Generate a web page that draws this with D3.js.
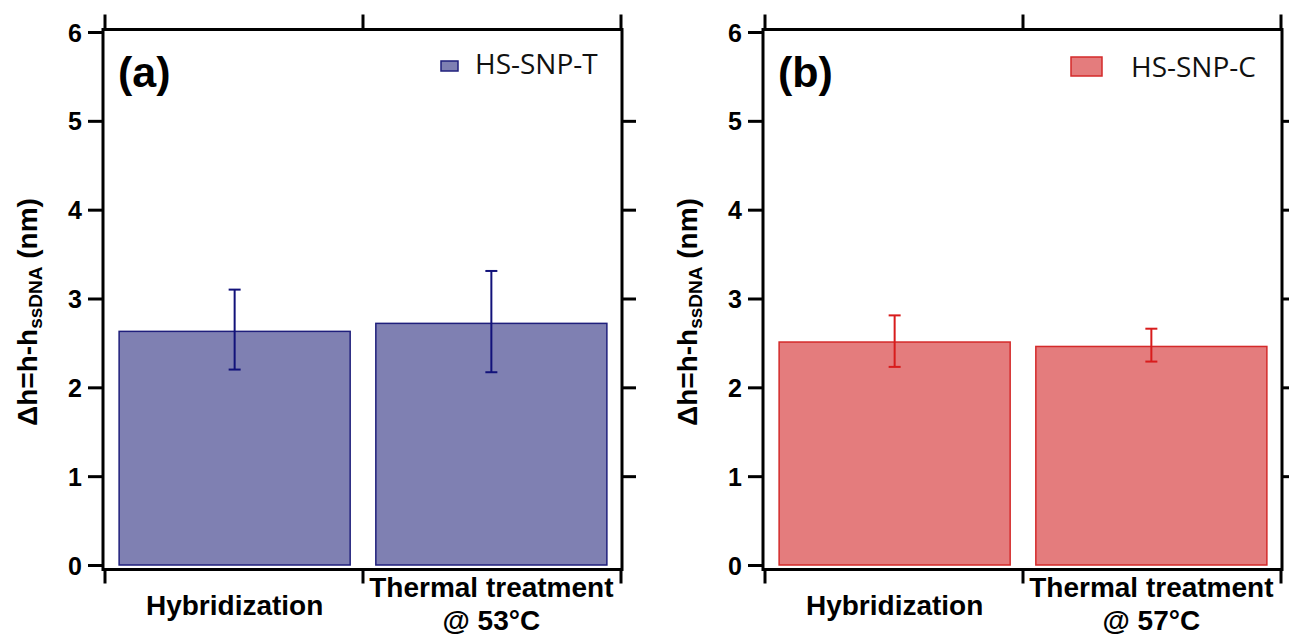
<!DOCTYPE html>
<html>
<head>
<meta charset="utf-8">
<script src="https://cdn.jsdelivr.net/npm/d3@7/dist/d3.min.js"></script>
<style>
  body { margin: 0; background: #fff; }
  svg text { font-family: "Liberation Sans", Arial, sans-serif; }
</style>
</head>
<body>
<svg id="chart" width="1289" height="637"></svg>
<script>
// values
var yTicks = [0, 1, 2, 3, 4, 5, 6];
var catsA = ['Hybridization', 'Thermal treatment|@ 53°C'];
var catsB = ['Hybridization', 'Thermal treatment|@ 57°C'];
var meanA = [2.63, 2.72];
var lowA = [2.20, 2.17];
var highA = [3.10, 3.31];
var meanB = [2.51, 2.46];
var lowB = [2.23, 2.29];
var highB = [2.81, 2.66];

var svg = d3.select('#chart');

function drawPanel(opts) {
    var g = svg.append('g').attr('transform', 'translate(' + opts.dx + ',0)');
    var left = 103, right = 622, top = 29.5, bottom = 569.5;

    var x = d3.scaleBand().domain(opts.cats).range([105, 621])
        .paddingInner(0.1).paddingOuter(0.055);
    var y = d3.scaleLinear().domain([0, 6]).range([565, 32]);

    var rows = opts.cats.map(function (c, i) {
        return { cat: c, v: opts.mean[i], lo: opts.low[i], hi: opts.high[i] };
    });

    // bars
    g.selectAll('.bar').data(rows).enter().append('rect')
        .attr('class', 'bar')
        .attr('x', function (d) { return x(d.cat); })
        .attr('width', x.bandwidth())
        .attr('y', function (d) { return y(d.v); })
        .attr('height', function (d) { return y(0) - y(d.v); })
        .attr('fill', opts.fill)
        .attr('stroke', opts.stroke)
        .attr('stroke-width', 1.5);

    // error bars
    var err = g.selectAll('.err').data(rows).enter().append('g')
        .attr('class', 'err')
        .attr('stroke', opts.errColor)
        .attr('stroke-width', 2);
    var cx = function (d) { return x(d.cat) + x.bandwidth() / 2; };
    err.append('line')
        .attr('x1', cx).attr('x2', cx)
        .attr('y1', function (d) { return y(d.lo); })
        .attr('y2', function (d) { return y(d.hi); });
    err.append('line')
        .attr('x1', function (d) { return cx(d) - 6; })
        .attr('x2', function (d) { return cx(d) + 6; })
        .attr('y1', function (d) { return y(d.hi); })
        .attr('y2', function (d) { return y(d.hi); });
    err.append('line')
        .attr('x1', function (d) { return cx(d) - 6; })
        .attr('x2', function (d) { return cx(d) + 6; })
        .attr('y1', function (d) { return y(d.lo); })
        .attr('y2', function (d) { return y(d.lo); });

    // frame
    g.append('rect')
        .attr('x', left).attr('y', top)
        .attr('width', right - left).attr('height', bottom - top)
        .attr('fill', 'none').attr('stroke', '#000').attr('stroke-width', 3);

    // left axis
    var ax = g.append('g').attr('transform', 'translate(' + left + ',0)')
        .call(d3.axisLeft(y).tickValues(yTicks).tickFormat(d3.format('d'))
            .tickSize(15).tickSizeOuter(0).tickPadding(6));
    ax.select('.domain').remove();
    ax.selectAll('.tick line').attr('stroke', '#000').attr('stroke-width', 3);
    ax.selectAll('.tick text')
        .attr('font-size', 25).attr('font-weight', 'bold').attr('fill', '#000')
        .attr('dy', '0.36em');

    // right axis (ticks only)
    var ar = g.append('g').attr('transform', 'translate(' + right + ',0)')
        .call(d3.axisRight(y).tickValues(yTicks.slice(1, 6)).tickSize(14).tickSizeOuter(0).tickFormat(''));
    ar.select('.domain').remove();
    ar.selectAll('.tick line').attr('stroke', '#000').attr('stroke-width', 3);

    // category boundary ticks, top and bottom
    var edges = [x.range()[0], (x(opts.cats[0]) + x.bandwidth() + x(opts.cats[1])) / 2, x.range()[1]];
    g.selectAll('.btick').data(edges).enter().append('line')
        .attr('x1', function (d) { return d; }).attr('x2', function (d) { return d; })
        .attr('y1', bottom).attr('y2', bottom + 14)
        .attr('stroke', '#000').attr('stroke-width', 3);
    g.selectAll('.ttick').data(edges).enter().append('line')
        .attr('x1', function (d) { return d; }).attr('x2', function (d) { return d; })
        .attr('y1', top).attr('y2', top - 15)
        .attr('stroke', '#000').attr('stroke-width', 3);

    // category labels
    var lab = g.selectAll('.cat').data(opts.cats).enter().append('text')
        .attr('class', 'cat')
        .attr('text-anchor', 'middle')
        .attr('font-size', 28).attr('font-weight', 'bold').attr('fill', '#000')
        .attr('transform', function (d) {
            var lines = d.split('|');
            return 'translate(' + (x(d) + x.bandwidth() / 2) + ',' + (lines.length > 1 ? 597 : 615) + ')';
        });
    lab.selectAll('tspan').data(function (d) { return d.split('|'); }).enter().append('tspan')
        .attr('x', 0)
        .attr('dy', function (d, i) { return i ? 33 : 0; })
        .text(function (d) { return d; });

    // y axis title
    var yt = g.append('text')
        .attr('transform', 'translate(37,312) rotate(-90)')
        .attr('text-anchor', 'middle')
        .attr('font-size', 28).attr('font-weight', 'bold').attr('fill', '#000');
    yt.append('tspan').text('\u0394h=h-h');
    yt.append('tspan').attr('font-size', 19).attr('dy', 5).text('ssDNA');
    yt.append('tspan').attr('dy', -5).text(' (nm)');

    // panel tag
    g.append('text')
        .attr('x', 118).attr('y', 87)
        .attr('font-size', 43).attr('font-weight', 'bold').attr('fill', '#000')
        .text(opts.tag);

    // legend
    var sw = opts.swatch;
    g.append('rect')
        .attr('x', sw[0]).attr('y', sw[1]).attr('width', sw[2]).attr('height', sw[3])
        .attr('fill', opts.fill).attr('stroke', opts.stroke).attr('stroke-width', 1.5);
    g.append('text')
        .attr('x', opts.legendX).attr('y', opts.legendY)
        .style('font-family', '"Open Sans", sans-serif')
        .attr('font-size', 28).attr('fill', '#111')
        .text(opts.name);
}

drawPanel({
    dx: 0, cats: catsA, mean: meanA, low: lowA, high: highA,
    tag: '(a)', name: 'HS-SNP-T',
    fill: '#7f80b2', stroke: '#1f1f7c', errColor: '#12127a',
    swatch: [441, 61, 17, 10], legendX: 475, legendY: 74
});
drawPanel({
    dx: 660, cats: catsB, mean: meanB, low: lowB, high: highB,
    tag: '(b)', name: 'HS-SNP-C',
    fill: '#e47c7d', stroke: '#d42a2a', errColor: '#d81c1c',
    swatch: [411, 57, 31, 19], legendX: 471, legendY: 77
});
</script>
</body>
</html>
